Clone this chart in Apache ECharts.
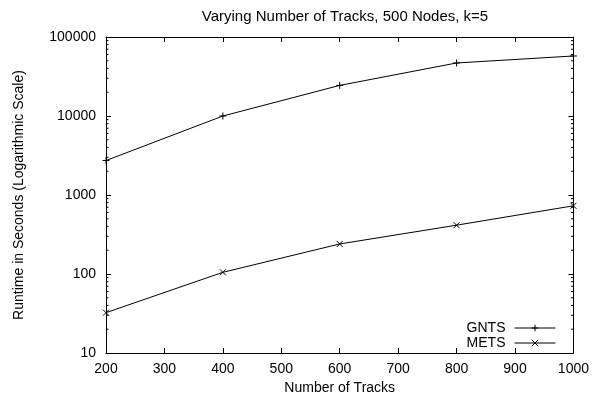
<!DOCTYPE html>
<html>
<head>
<meta charset="utf-8">
<script src="https://cdn.jsdelivr.net/npm/echarts@6/dist/echarts.min.js"></script>
<style>
  html, body { margin: 0; padding: 0; background: #fff; }
  #chart { width: 592px; height: 400px; }
</style>
</head>
<body>
<div id="chart"></div>
<script>
// data
const tracks = [200, 400, 600, 800, 1000];
const gnts = [2730, 10000, 24400, 46900, 57500];
const mets = [32.4, 105, 240, 415, 730];
const minorTicks = [];
[10, 100, 1000, 10000].forEach(function (d) {
    for (let m = 2; m <= 9; m++) minorTicks.push(d * m);
});

const font = 'Liberation Sans, Helvetica, Arial, sans-serif';
const fs = 14;
const chart = echarts.init(document.getElementById('chart'));

const plus = 'path://M0,-1L0,1M-1,0L1,0';
const cross = 'path://M-1,-1L1,1M-1,1L1,-1';

function pairs(ys) {
    return tracks.map(function (x, i) { return [x, ys[i]]; });
}

const xBase = {
    type: 'value', min: 200, max: 1000, interval: 100,
    axisLine: { lineStyle: { color: '#000', width: 1 } },
    axisTick: { inside: true, length: 5, lineStyle: { color: '#000' } },
    splitLine: { show: false }
};
const yBase = {
    type: 'log', logBase: 10, min: 10, max: 100000,
    axisLine: { show: true, lineStyle: { color: '#000', width: 1 } },
    axisTick: { inside: true, length: 5, lineStyle: { color: '#000' } },
    splitLine: { show: false }
};

chart.setOption({
    animation: false,
    title: {
        text: 'Varying Number of Tracks, 500 Nodes, k=5',
        left: 340, textAlign: 'center', top: 4,
        textStyle: { fontFamily: font, fontSize: 15, fontWeight: 'normal', color: '#000' }
    },
    grid: { left: 106, right: 18, top: 37, bottom: 47 },
    legend: {
        right: 31, top: 316, orient: 'vertical', align: 'right',
        itemWidth: 41, itemHeight: 8, itemGap: 1,
        lineStyle: { width: 1 },
        itemStyle: { borderWidth: 1 },
        textStyle: { fontFamily: font, fontSize: fs, color: '#000', padding: [0, 4, 0, 0] },
        data: ['GNTS', 'METS']
    },
    xAxis: [
        Object.assign({}, xBase, {
            name: 'Number of Tracks', nameLocation: 'middle', nameGap: 28,
            nameTextStyle: { fontFamily: font, fontSize: fs, color: '#000' },
            axisLabel: {
                fontFamily: font, fontSize: fs, color: '#000', margin: 9,
                formatter: function (v) { return String(v); }
            }
        }),
        Object.assign({}, xBase, { position: 'top', axisLabel: { show: false } })
    ],
    yAxis: [
        Object.assign({}, yBase, {
            name: 'Runtime in Seconds (Logarithmic Scale)', nameLocation: 'middle', nameGap: 80,
            nameTextStyle: { fontFamily: font, fontSize: fs, color: '#000' },
            axisLabel: {
                fontFamily: font, fontSize: fs, color: '#000', margin: 10,
                formatter: function (v) { return String(Math.round(v)); }
            }
        }),
        Object.assign({}, yBase, { position: 'right', axisLabel: { show: false } })
    ],
    series: [
        {
            name: 'GNTS', type: 'line', data: pairs(gnts),
            symbol: plus, symbolSize: 7,
            lineStyle: { color: '#000', width: 1 },
            itemStyle: { color: '#000', borderColor: '#000', borderWidth: 1 }
        },
        {
            name: 'METS', type: 'line', data: pairs(mets),
            symbol: cross, symbolSize: 6,
            lineStyle: { color: '#000', width: 1 },
            itemStyle: { color: '#000', borderColor: '#000', borderWidth: 1 }
        },
        {
            // minor log ticks on left and right edges
            type: 'custom', silent: true,
            data: minorTicks.map(function (v) { return [200, v]; }),
            renderItem: function (params, api) {
                const v = api.value(1);
                const l = api.coord([200, v]);
                const r = api.coord([1000, v]);
                return {
                    type: 'group',
                    children: [
                        { type: 'line', shape: { x1: l[0], y1: l[1], x2: l[0] + 2.5, y2: l[1] }, style: { stroke: '#000', lineWidth: 1 } },
                        { type: 'line', shape: { x1: r[0], y1: r[1], x2: r[0] - 2.5, y2: r[1] }, style: { stroke: '#000', lineWidth: 1 } }
                    ]
                };
            }
        }
    ]
});
</script>
</body>
</html>
